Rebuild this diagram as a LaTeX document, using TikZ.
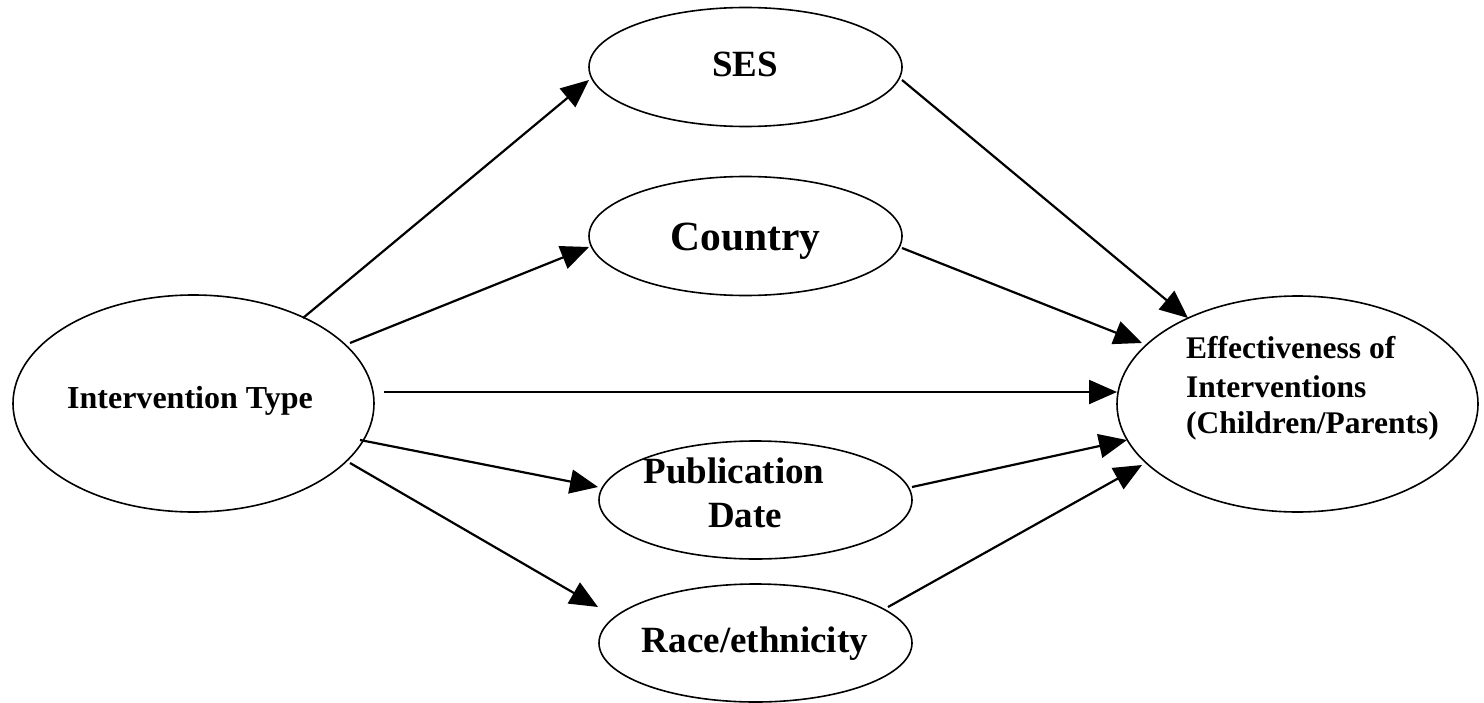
\documentclass[tikz,border=0pt]{standalone}
\usepackage{fontspec}
\setmainfont{Liberation Serif}
\usetikzlibrary{arrows.meta,shapes.geometric}
\begin{document}
\begin{tikzpicture}[x=1bp,y=-1bp,
  oval/.style={draw, ellipse, line width=1.6bp, inner sep=0pt},
  smalloval/.style={oval, minimum width=313bp, minimum height=119bp},
  bigoval/.style={oval, minimum width=361bp, minimum height=217bp},
  arr/.style={line width=2.2bp, -{Triangle[length=28bp,width=24bp]}},
  lbl/.style={anchor=base, inner sep=0pt},
  fA/.style={font=\bfseries\fontsize{37bp}{40bp}\selectfont},
  fB/.style={font=\bfseries\fontsize{41.5bp}{46bp}\selectfont},
  fC/.style={font=\bfseries\fontsize{32bp}{36bp}\selectfont},
  fD/.style={font=\bfseries\fontsize{31.5bp}{36bp}\selectfont},
  fE/.style={font=\bfseries\fontsize{37bp}{42bp}\selectfont}]
\useasboundingbox (0,0) rectangle (1484,703);
\fill[white] (0,0) rectangle (1484,703);

% ellipses
\node[smalloval] (ses) at (745.5,67) {};
\node[smalloval] (country) at (745.5,236) {};
\node[bigoval] (it) at (193.5,403.5) {};
\node[bigoval, minimum height=216bp] (eff) at (1297.5,404) {};
\node[smalloval, minimum height=118bp] (pub) at (755.5,500) {};
\node[smalloval, minimum height=118bp] (race) at (755.5,643) {};

% labels
\node[lbl, fA] (sesT) at (745,77) {SES};
\node[lbl, fB] (countryT) at (745.5,250) {Country};
\node[lbl, fC] (itT) at (190,408) {Intervention Type};
\node[lbl, fD, anchor=base west] (effT1) at (1186,358) {Effectiveness of};
\node[lbl, fD, anchor=base west] (effT2) at (1186,397) {Interventions};
\node[lbl, fD, anchor=base west] (effT3) at (1186,433) {(Children/Parents)};
\node[lbl, fE] (pubT1) at (734,483) {Publication};
\node[lbl, fE] (pubT2) at (745,527) {Date};
\node[lbl, fE] (raceT) at (755,652) {Race/ethnicity};

% connectors
\draw[arr] ([shift={(109.5,-85.5)}]it.center) -- ([shift={(-156.5,13)}]ses.center);
\draw[arr] ([shift={(156.5,-60.5)}]it.center) -- ([shift={(-156.5,11)}]country.center);
\draw[arr] ([shift={(190.5,-11.5)}]it.center) -- ([shift={(-180.5,-12)}]eff.center);
\draw[arr] ([shift={(166.5,36.5)}]it.center) -- ([shift={(-157.5,-13)}]pub.center);
\draw[arr] ([shift={(156.5,59.5)}]it.center) -- ([shift={(-157.5,-36)}]race.center);
\draw[arr] ([shift={(156.5,13)}]ses.center) -- ([shift={(-109.5,-86)}]eff.center);
\draw[arr] ([shift={(156.5,12)}]country.center) -- ([shift={(-155.5,-61)}]eff.center);
\draw[arr] ([shift={(156.5,-13)}]pub.center) -- ([shift={(-170.5,36)}]eff.center);
\draw[arr] ([shift={(132.5,-36)}]race.center) -- ([shift={(-155.5,61)}]eff.center);
\end{tikzpicture}
\end{document}
